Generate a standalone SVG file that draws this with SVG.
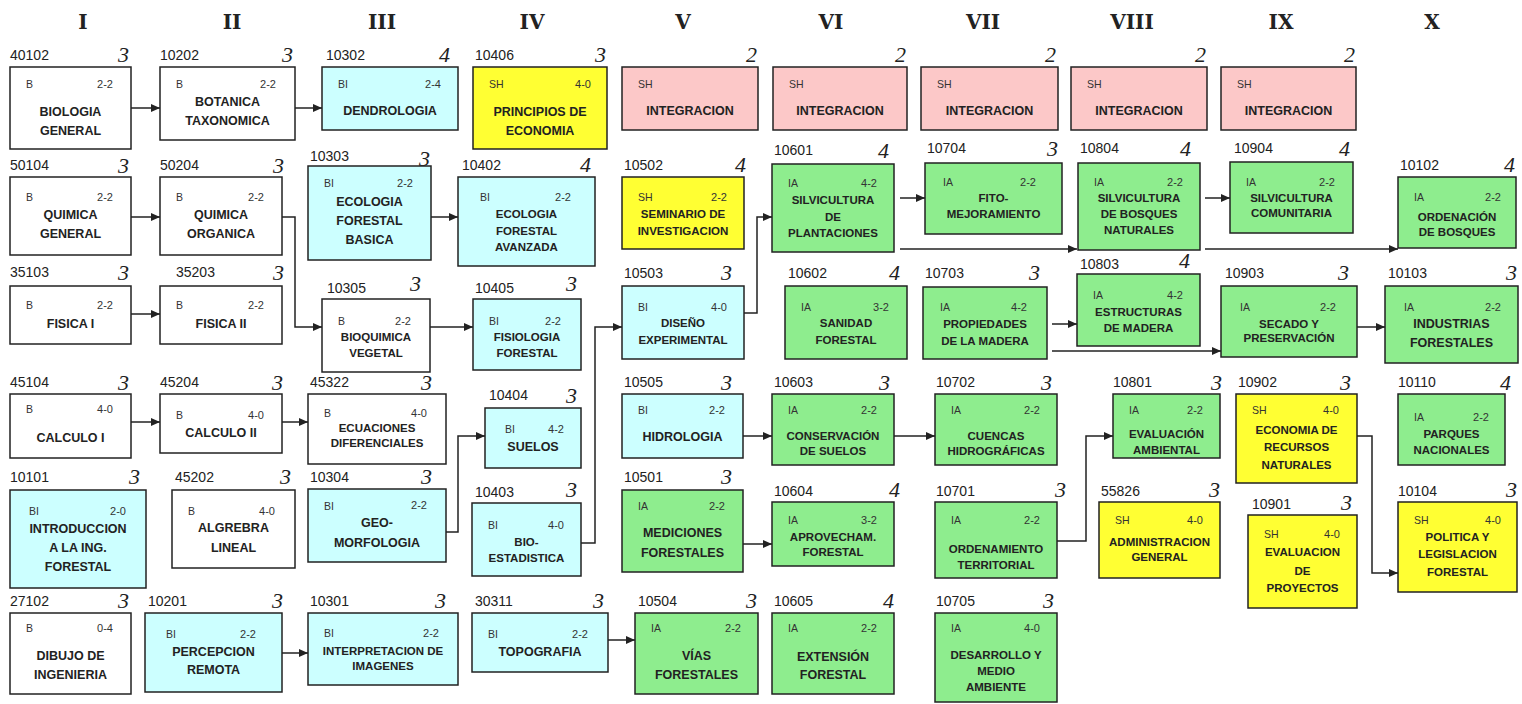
<svg xmlns="http://www.w3.org/2000/svg" width="1522" height="704" viewBox="0 0 1522 704">
<style>
.hd{font:bold 20px "DejaVu Serif","Liberation Serif",serif;fill:#222;text-anchor:middle}
.bx{stroke:#222;stroke-width:1.5}
.w{fill:#ffffff}.cy{fill:#ccffff}.ye{fill:#ffff33}.pk{fill:#fcc8c8}.gr{fill:#8eed8e}
.c{font:14px "Liberation Sans",Arial,sans-serif;fill:#222}
.cr{font:italic 22px "Liberation Serif",serif;fill:#222;text-anchor:end}
.t{font:10.5px "Liberation Sans",Arial,sans-serif;fill:#333}
.h{font:11px "Liberation Sans",Arial,sans-serif;fill:#333;text-anchor:end}
.n{font:bold 12.5px "Liberation Sans",Arial,sans-serif;fill:#222;text-anchor:middle}
.s{font:bold 11.5px "Liberation Sans",Arial,sans-serif;fill:#222;text-anchor:middle}
.ln{fill:none;stroke:#222;stroke-width:1.5}
</style>
<defs>
<marker id="ar" markerUnits="userSpaceOnUse" markerWidth="9" markerHeight="8" refX="9" refY="4" orient="auto"><path d="M0,0 L9,4 L0,8 z" fill="#222"/></marker>
</defs>
<rect width="1522" height="704" fill="#ffffff"/>
<g id="headers">
<text class="hd" x="83" y="29">I</text><text class="hd" x="232" y="29">II</text><text class="hd" x="382" y="29">III</text><text class="hd" x="532" y="29">IV</text><text class="hd" x="683" y="29">V</text><text class="hd" x="831" y="29">VI</text><text class="hd" x="983" y="29">VII</text><text class="hd" x="1132" y="29">VIII</text><text class="hd" x="1281" y="29">IX</text><text class="hd" x="1432" y="29">X</text>
</g>
<g id="connectors">
<path class="ln" marker-end="url(#ar)" d="M131,108 H160"/>
<path class="ln" marker-end="url(#ar)" d="M295,108 H322"/>
<path class="ln" marker-end="url(#ar)" d="M131,217 H160"/>
<path class="ln" marker-end="url(#ar)" d="M282,217 H295 V327 H322"/>
<path class="ln" marker-end="url(#ar)" d="M131,314 H160"/>
<path class="ln" marker-end="url(#ar)" d="M431,217 H458"/>
<path class="ln" marker-end="url(#ar)" d="M430,327 H473"/>
<path class="ln" marker-end="url(#ar)" d="M581,543 H595 V327 H622"/>
<path class="ln" marker-end="url(#ar)" d="M744,313 H757 V217 H772"/>
<path class="ln" marker-end="url(#ar)" d="M900,198 H925"/>
<path class="ln" marker-end="url(#ar)" d="M900,249 H1077"/>
<path class="ln" marker-end="url(#ar)" d="M1205,198 H1230"/>
<path class="ln" marker-end="url(#ar)" d="M1205,249 H1398"/>
<path class="ln" marker-end="url(#ar)" d="M1052,324 H1077"/>
<path class="ln" marker-end="url(#ar)" d="M1052,351 H1221"/>
<path class="ln" marker-end="url(#ar)" d="M1357,327 H1385"/>
<path class="ln" marker-end="url(#ar)" d="M131,422 H160"/>
<path class="ln" marker-end="url(#ar)" d="M282,422 H308"/>
<path class="ln" marker-end="url(#ar)" d="M446,532 H458 V436 H485"/>
<path class="ln" marker-end="url(#ar)" d="M743,436 H772"/>
<path class="ln" marker-end="url(#ar)" d="M743,544 H772"/>
<path class="ln" marker-end="url(#ar)" d="M894,436 H935"/>
<path class="ln" marker-end="url(#ar)" d="M1057,541 H1086 V436 H1113"/>
<path class="ln" marker-end="url(#ar)" d="M1357,436 H1372 V573 H1398"/>
<path class="ln" marker-end="url(#ar)" d="M282,653 H308"/>
<path class="ln" marker-end="url(#ar)" d="M608,640 H635"/>
</g>

<g id="n40102"><rect class="bx w" x="10" y="67" width="121" height="82"/><text class="c" x="10" y="60">40102</text><text class="cr" x="129" y="62">3</text><text class="t" x="26" y="88">B</text><text class="h" x="113" y="88">2-2</text><text class="n"><tspan x="70.5" y="116">BIOLOGIA</tspan><tspan x="70.5" y="135">GENERAL</tspan></text></g>
<g id="n10202"><rect class="bx w" x="160" y="67" width="135" height="73"/><text class="c" x="160" y="60">10202</text><text class="cr" x="293" y="62">3</text><text class="t" x="176" y="88">B</text><text class="h" x="276" y="88">2-2</text><text class="n"><tspan x="227.5" y="106">BOTANICA</tspan><tspan x="227.5" y="125">TAXONOMICA</tspan></text></g>
<g id="n10302"><rect class="bx cy" x="322" y="67" width="136" height="63"/><text class="c" x="326" y="60">10302</text><text class="cr" x="450" y="62">4</text><text class="t" x="338" y="88">BI</text><text class="h" x="441" y="88">2-4</text><text class="n" x="390" y="115">DENDROLOGIA</text></g>
<g id="n10406"><rect class="bx ye" x="473" y="67" width="134" height="82"/><text class="c" x="475" y="60">10406</text><text class="cr" x="606" y="62">3</text><text class="t" x="489" y="88">SH</text><text class="h" x="591" y="88">4-0</text><text class="n"><tspan x="540" y="116">PRINCIPIOS  DE</tspan><tspan x="540" y="135">ECONOMIA</tspan></text></g>
<g id="int5"><rect class="bx pk" x="622" y="67" width="136" height="63"/><text class="cr" x="757" y="62">2</text><text class="t" x="638" y="88">SH</text><text class="n" x="690" y="115">INTEGRACION</text></g>
<g id="int6"><rect class="bx pk" x="773" y="67" width="134" height="63"/><text class="cr" x="906" y="62">2</text><text class="t" x="789" y="88">SH</text><text class="n" x="840" y="115">INTEGRACION</text></g>
<g id="int7"><rect class="bx pk" x="921" y="67" width="137" height="63"/><text class="cr" x="1056" y="62">2</text><text class="t" x="937" y="88">SH</text><text class="n" x="989.5" y="115">INTEGRACION</text></g>
<g id="int8"><rect class="bx pk" x="1071" y="67" width="136" height="63"/><text class="cr" x="1206" y="62">2</text><text class="t" x="1087" y="88">SH</text><text class="n" x="1139" y="115">INTEGRACION</text></g>
<g id="int9"><rect class="bx pk" x="1221" y="67" width="135" height="63"/><text class="cr" x="1355" y="62">2</text><text class="t" x="1237" y="88">SH</text><text class="n" x="1288.5" y="115">INTEGRACION</text></g>

<g id="n50104"><rect class="bx w" x="10" y="177" width="121" height="78"/><text class="c" x="10" y="170">50104</text><text class="cr" x="129" y="173">3</text><text class="t" x="26" y="201">B</text><text class="h" x="113" y="201">2-2</text><text class="n"><tspan x="70.5" y="219">QUIMICA</tspan><tspan x="70.5" y="238">GENERAL</tspan></text></g>
<g id="n50204"><rect class="bx w" x="160" y="177" width="122" height="78"/><text class="c" x="160" y="170">50204</text><text class="cr" x="284" y="173">3</text><text class="t" x="176" y="201">B</text><text class="h" x="264" y="201">2-2</text><text class="n"><tspan x="221" y="219">QUIMICA</tspan><tspan x="221" y="238">ORGANICA</tspan></text></g>
<g id="n10303"><rect class="bx cy" x="308" y="166" width="123" height="94"/><text class="c" x="310" y="161">10303</text><text class="cr" x="430" y="166">3</text><text class="t" x="324" y="187">BI</text><text class="h" x="413" y="187">2-2</text><text class="n"><tspan x="369.5" y="206">ECOLOGIA</tspan><tspan x="369.5" y="225">FORESTAL</tspan><tspan x="369.5" y="244">BASICA</tspan></text></g>
<g id="n10402"><rect class="bx cy" x="458" y="177" width="137" height="89"/><text class="c" x="462" y="170">10402</text><text class="cr" x="591" y="172">4</text><text class="t" x="480" y="201">BI</text><text class="h" x="571" y="201">2-2</text><text class="s"><tspan x="526.5" y="218">ECOLOGIA</tspan><tspan x="526.5" y="235">FORESTAL</tspan><tspan x="526.5" y="251">AVANZADA</tspan></text></g>
<g id="n10502"><rect class="bx ye" x="622" y="177" width="122" height="72"/><text class="c" x="624" y="170">10502</text><text class="cr" x="746" y="172">4</text><text class="t" x="638" y="201">SH</text><text class="h" x="727" y="201">2-2</text><text class="s"><tspan x="683" y="218">SEMINARIO DE</tspan><tspan x="683" y="235">INVESTIGACION</tspan></text></g>
<g id="n10601"><rect class="bx gr" x="772" y="164" width="122" height="88"/><text class="c" x="774" y="155">10601</text><text class="cr" x="889" y="158">4</text><text class="t" x="788" y="187">IA</text><text class="h" x="877" y="187">4-2</text><text class="s"><tspan x="833" y="204">SILVICULTURA</tspan><tspan x="833" y="221">DE</tspan><tspan x="833" y="237">PLANTACIONES</tspan></text></g>
<g id="n10704"><rect class="bx gr" x="925" y="163" width="137" height="71"/><text class="c" x="927" y="153">10704</text><text class="cr" x="1058" y="156">3</text><text class="t" x="943" y="186">IA</text><text class="h" x="1036" y="186">2-2</text><text class="s"><tspan x="993.5" y="202">FITO-</tspan><tspan x="993.5" y="218">MEJORAMIENTO</tspan></text></g>
<g id="n10804"><rect class="bx gr" x="1078" y="163" width="122" height="87"/><text class="c" x="1080" y="153">10804</text><text class="cr" x="1191" y="156">4</text><text class="t" x="1094" y="186">IA</text><text class="h" x="1183" y="186">2-2</text><text class="s"><tspan x="1139" y="202">SILVICULTURA</tspan><tspan x="1139" y="218">DE BOSQUES</tspan><tspan x="1139" y="234">NATURALES</tspan></text></g>
<g id="n10904"><rect class="bx gr" x="1230" y="162" width="123" height="71"/><text class="c" x="1234" y="153">10904</text><text class="cr" x="1350" y="156">4</text><text class="t" x="1246" y="186">IA</text><text class="h" x="1335" y="186">2-2</text><text class="s"><tspan x="1291.5" y="202">SILVICULTURA</tspan><tspan x="1291.5" y="217">COMUNITARIA</tspan></text></g>
<g id="n10102"><rect class="bx gr" x="1398" y="177" width="118" height="71"/><text class="c" x="1400" y="170">10102</text><text class="cr" x="1515" y="172">4</text><text class="t" x="1414" y="201">IA</text><text class="h" x="1501" y="201">2-2</text><text class="s"><tspan x="1457" y="221">ORDENACIÓN</tspan><tspan x="1457" y="236">DE BOSQUES</tspan></text></g>

<g id="n35103"><rect class="bx w" x="10" y="286" width="121" height="58"/><text class="c" x="10" y="277">35103</text><text class="cr" x="129" y="280">3</text><text class="t" x="26" y="309">B</text><text class="h" x="113" y="309">2-2</text><text class="n" x="70.5" y="328">FISICA  I</text></g>
<g id="n35203"><rect class="bx w" x="160" y="286" width="122" height="58"/><text class="c" x="176" y="277">35203</text><text class="cr" x="284" y="280">3</text><text class="t" x="176" y="309">B</text><text class="h" x="264" y="309">2-2</text><text class="n" x="221" y="328">FISICA II</text></g>
<g id="n10305"><rect class="bx w" x="322" y="299" width="108" height="73"/><text class="c" x="327" y="293">10305</text><text class="cr" x="421" y="291">3</text><text class="t" x="338" y="325">B</text><text class="h" x="411" y="325">2-2</text><text class="s"><tspan x="376" y="341">BIOQUIMICA</tspan><tspan x="376" y="357">VEGETAL</tspan></text></g>
<g id="n10405"><rect class="bx cy" x="473" y="299" width="108" height="71"/><text class="c" x="475" y="293">10405</text><text class="cr" x="577" y="291">3</text><text class="t" x="489" y="325">BI</text><text class="h" x="561" y="325">2-2</text><text class="s"><tspan x="527" y="341">FISIOLOGIA</tspan><tspan x="527" y="357">FORESTAL</tspan></text></g>
<g id="n10503"><rect class="bx cy" x="622" y="286" width="122" height="73"/><text class="c" x="624" y="278">10503</text><text class="cr" x="732" y="280">3</text><text class="t" x="638" y="311">BI</text><text class="h" x="727" y="311">4-0</text><text class="s"><tspan x="683" y="327">DISEÑO</tspan><tspan x="683" y="344">EXPERIMENTAL</tspan></text></g>
<g id="n10602"><rect class="bx gr" x="785" y="286" width="122" height="73"/><text class="c" x="788" y="278">10602</text><text class="cr" x="900" y="280">4</text><text class="t" x="801" y="311">IA</text><text class="h" x="889" y="311">3-2</text><text class="s"><tspan x="846" y="327">SANIDAD</tspan><tspan x="846" y="344">FORESTAL</tspan></text></g>
<g id="n10703"><rect class="bx gr" x="923" y="287" width="124" height="72"/><text class="c" x="925" y="278">10703</text><text class="cr" x="1040" y="280">3</text><text class="t" x="940" y="311">IA</text><text class="h" x="1027" y="311">4-2</text><text class="s"><tspan x="985" y="328">PROPIEDADES</tspan><tspan x="985" y="345">DE LA MADERA</tspan></text></g>
<g id="n10803"><rect class="bx gr" x="1077" y="274" width="123" height="72"/><text class="c" x="1080" y="269">10803</text><text class="cr" x="1190" y="268">4</text><text class="t" x="1093" y="299">IA</text><text class="h" x="1183" y="299">4-2</text><text class="s"><tspan x="1138.5" y="316">ESTRUCTURAS</tspan><tspan x="1138.5" y="332">DE MADERA</tspan></text></g>
<g id="n10903"><rect class="bx gr" x="1221" y="286" width="136" height="71"/><text class="c" x="1225" y="278">10903</text><text class="cr" x="1349" y="280">3</text><text class="t" x="1240" y="311">IA</text><text class="h" x="1336" y="311">2-2</text><text class="s"><tspan x="1289" y="328">SECADO Y</tspan><tspan x="1289" y="342">PRESERVACIÓN</tspan></text></g>
<g id="n10103"><rect class="bx gr" x="1385" y="286" width="133" height="77"/><text class="c" x="1388" y="278">10103</text><text class="cr" x="1517" y="280">3</text><text class="t" x="1404" y="311">IA</text><text class="h" x="1501" y="311">2-2</text><text class="n"><tspan x="1451.5" y="328">INDUSTRIAS</tspan><tspan x="1451.5" y="347">FORESTALES</tspan></text></g>

<g id="n45104"><rect class="bx w" x="10" y="394" width="121" height="64"/><text class="c" x="10" y="387">45104</text><text class="cr" x="129" y="390">3</text><text class="t" x="26" y="413">B</text><text class="h" x="113" y="413">4-0</text><text class="n" x="70.5" y="442">CALCULO I</text></g>
<g id="n45204"><rect class="bx w" x="160" y="394" width="122" height="59"/><text class="c" x="160" y="387">45204</text><text class="cr" x="283" y="390">3</text><text class="t" x="176" y="419">B</text><text class="h" x="264" y="419">4-0</text><text class="n" x="221" y="437">CALCULO II</text></g>
<g id="n45322"><rect class="bx w" x="308" y="394" width="138" height="70"/><text class="c" x="310" y="387">45322</text><text class="cr" x="432" y="390">3</text><text class="t" x="324" y="417">B</text><text class="h" x="427" y="417">4-0</text><text class="s"><tspan x="377" y="432">ECUACIONES</tspan><tspan x="377" y="447">DIFERENCIALES</tspan></text></g>
<g id="n10404"><rect class="bx cy" x="485" y="408" width="96" height="60"/><text class="c" x="489" y="400">10404</text><text class="cr" x="577" y="403">3</text><text class="t" x="505" y="433">BI</text><text class="h" x="564" y="433">4-2</text><text class="n" x="533" y="451">SUELOS</text></g>
<g id="n10505"><rect class="bx cy" x="622" y="394" width="121" height="64"/><text class="c" x="624" y="387">10505</text><text class="cr" x="732" y="390">3</text><text class="t" x="638" y="414">BI</text><text class="h" x="725" y="414">2-2</text><text class="n" x="682.5" y="441">HIDROLOGIA</text></g>
<g id="n10603"><rect class="bx gr" x="772" y="394" width="122" height="71"/><text class="c" x="774" y="387">10603</text><text class="cr" x="890" y="390">3</text><text class="t" x="788" y="414">IA</text><text class="h" x="877" y="414">2-2</text><text class="s"><tspan x="833" y="440">CONSERVACIÓN</tspan><tspan x="833" y="455">DE SUELOS</tspan></text></g>
<g id="n10702"><rect class="bx gr" x="935" y="394" width="122" height="71"/><text class="c" x="936" y="387">10702</text><text class="cr" x="1052" y="390">3</text><text class="t" x="951" y="414">IA</text><text class="h" x="1040" y="414">2-2</text><text class="s"><tspan x="996" y="440">CUENCAS</tspan><tspan x="996" y="455">HIDROGRÁFICAS</tspan></text></g>
<g id="n10801"><rect class="bx gr" x="1113" y="394" width="107" height="64"/><text class="c" x="1113" y="387">10801</text><text class="cr" x="1222" y="390">3</text><text class="t" x="1129" y="414">IA</text><text class="h" x="1203" y="414">2-2</text><text class="s"><tspan x="1166.5" y="438">EVALUACIÓN</tspan><tspan x="1166.5" y="454">AMBIENTAL</tspan></text></g>
<g id="n10902"><rect class="bx ye" x="1236" y="394" width="121" height="89"/><text class="c" x="1238" y="387">10902</text><text class="cr" x="1351" y="390">3</text><text class="t" x="1252" y="414">SH</text><text class="h" x="1339" y="414">4-0</text><text class="s"><tspan x="1296.5" y="434">ECONOMIA DE</tspan><tspan x="1296.5" y="451">RECURSOS</tspan><tspan x="1296.5" y="469">NATURALES</tspan></text></g>
<g id="n10110"><rect class="bx gr" x="1398" y="394" width="107" height="71"/><text class="c" x="1398" y="387">10110</text><text class="cr" x="1511" y="390">4</text><text class="t" x="1414" y="421">IA</text><text class="h" x="1489" y="421">2-2</text><text class="s"><tspan x="1451.5" y="438">PARQUES</tspan><tspan x="1451.5" y="454">NACIONALES</tspan></text></g>

<g id="n10101"><rect class="bx cy" x="10" y="490" width="136" height="98"/><text class="c" x="10" y="482">10101</text><text class="cr" x="140" y="484">3</text><text class="t" x="29" y="515">BI</text><text class="h" x="126" y="515">2-0</text><text class="n"><tspan x="78" y="533">INTRODUCCION</tspan><tspan x="78" y="552">A LA ING.</tspan><tspan x="78" y="571">FORESTAL</tspan></text></g>
<g id="n45202"><rect class="bx w" x="172" y="490" width="123" height="78"/><text class="c" x="175" y="482">45202</text><text class="cr" x="291" y="484">3</text><text class="t" x="188" y="515">B</text><text class="h" x="275" y="515">4-0</text><text class="n"><tspan x="233.5" y="532">ALGREBRA</tspan><tspan x="233.5" y="552">LINEAL</tspan></text></g>
<g id="n10304"><rect class="bx cy" x="308" y="489" width="138" height="73"/><text class="c" x="310" y="482">10304</text><text class="cr" x="432" y="484">3</text><text class="t" x="324" y="510">BI</text><text class="h" x="427" y="509">2-2</text><text class="n"><tspan x="377" y="527">GEO-</tspan><tspan x="377" y="547">MORFOLOGIA</tspan></text></g>
<g id="n10403"><rect class="bx cy" x="472" y="503" width="109" height="73"/><text class="c" x="475" y="497">10403</text><text class="cr" x="577" y="497">3</text><text class="t" x="488" y="529">BI</text><text class="h" x="564" y="529">4-0</text><text class="s"><tspan x="526.5" y="546">BIO-</tspan><tspan x="526.5" y="562">ESTADISTICA</tspan></text></g>
<g id="n10501"><rect class="bx gr" x="622" y="490" width="121" height="82"/><text class="c" x="624" y="482">10501</text><text class="cr" x="732" y="484">3</text><text class="t" x="638" y="510">IA</text><text class="h" x="725" y="510">2-2</text><text class="n"><tspan x="682.5" y="537">MEDICIONES</tspan><tspan x="682.5" y="557">FORESTALES</tspan></text></g>
<g id="n10604"><rect class="bx gr" x="772" y="502" width="122" height="64"/><text class="c" x="774" y="496">10604</text><text class="cr" x="900" y="497">4</text><text class="t" x="788" y="524">IA</text><text class="h" x="877" y="524">3-2</text><text class="s"><tspan x="833" y="541">APROVECHAM.</tspan><tspan x="833" y="556">FORESTAL</tspan></text></g>
<g id="n10701"><rect class="bx gr" x="935" y="502" width="122" height="76"/><text class="c" x="936" y="496">10701</text><text class="cr" x="1066" y="497">3</text><text class="t" x="951" y="524">IA</text><text class="h" x="1040" y="524">2-2</text><text class="s"><tspan x="996" y="553">ORDENAMIENTO</tspan><tspan x="996" y="569">TERRITORIAL</tspan></text></g>
<g id="n55826"><rect class="bx ye" x="1099" y="502" width="121" height="76"/><text class="c" x="1101" y="496">55826</text><text class="cr" x="1220" y="497">3</text><text class="t" x="1115" y="524">SH</text><text class="h" x="1203" y="524">4-0</text><text class="s"><tspan x="1159.5" y="546">ADMINISTRACION</tspan><tspan x="1159.5" y="561">GENERAL</tspan></text></g>
<g id="n10901"><rect class="bx ye" x="1248" y="515" width="109" height="93"/><text class="c" x="1252" y="509">10901</text><text class="cr" x="1352" y="510">3</text><text class="t" x="1264" y="538">SH</text><text class="h" x="1340" y="538">4-0</text><text class="s"><tspan x="1302.5" y="556">EVALUACION</tspan><tspan x="1302.5" y="575">DE</tspan><tspan x="1302.5" y="592">PROYECTOS</tspan></text></g>
<g id="n10104"><rect class="bx ye" x="1398" y="502" width="119" height="90"/><text class="c" x="1398" y="496">10104</text><text class="cr" x="1517" y="497">3</text><text class="t" x="1414" y="524">SH</text><text class="h" x="1501" y="524">4-0</text><text class="s"><tspan x="1457.5" y="541">POLITICA Y</tspan><tspan x="1457.5" y="558">LEGISLACION</tspan><tspan x="1457.5" y="576">FORESTAL</tspan></text></g>

<g id="n27102"><rect class="bx w" x="10" y="613" width="121" height="81"/><text class="c" x="10" y="606">27102</text><text class="cr" x="129" y="608">3</text><text class="t" x="26" y="632">B</text><text class="h" x="113" y="632">0-4</text><text class="n"><tspan x="70.5" y="660">DIBUJO DE</tspan><tspan x="70.5" y="679">INGENIERIA</tspan></text></g>
<g id="n10201"><rect class="bx cy" x="145" y="613" width="137" height="79"/><text class="c" x="148" y="606">10201</text><text class="cr" x="283" y="608">3</text><text class="t" x="166" y="638">BI</text><text class="h" x="256" y="638">2-2</text><text class="n"><tspan x="213.5" y="656">PERCEPCION</tspan><tspan x="213.5" y="674">REMOTA</tspan></text></g>
<g id="n10301"><rect class="bx cy" x="308" y="613" width="150" height="72"/><text class="c" x="310" y="606">10301</text><text class="cr" x="446" y="608">3</text><text class="t" x="324" y="637">BI</text><text class="h" x="439" y="637">2-2</text><text class="s"><tspan x="383" y="655">INTERPRETACION DE</tspan><tspan x="383" y="670">IMAGENES</tspan></text></g>
<g id="n30311"><rect class="bx cy" x="472" y="613" width="136" height="59"/><text class="c" x="475" y="606">30311</text><text class="cr" x="604" y="608">3</text><text class="t" x="488" y="638">BI</text><text class="h" x="588" y="638">2-2</text><text class="n" x="540" y="656">TOPOGRAFIA</text></g>
<g id="n10504"><rect class="bx gr" x="635" y="613" width="123" height="81"/><text class="c" x="638" y="606">10504</text><text class="cr" x="757" y="608">3</text><text class="t" x="651" y="632">IA</text><text class="h" x="741" y="632">2-2</text><text class="n"><tspan x="696.5" y="660">VÍAS</tspan><tspan x="696.5" y="679">FORESTALES</tspan></text></g>
<g id="n10605"><rect class="bx gr" x="772" y="613" width="122" height="81"/><text class="c" x="774" y="606">10605</text><text class="cr" x="894" y="608">4</text><text class="t" x="788" y="632">IA</text><text class="h" x="877" y="632">2-2</text><text class="n"><tspan x="833" y="661">EXTENSIÓN</tspan><tspan x="833" y="679">FORESTAL</tspan></text></g>
<g id="n10705"><rect class="bx gr" x="935" y="613" width="122" height="89"/><text class="c" x="936" y="606">10705</text><text class="cr" x="1054" y="608">3</text><text class="t" x="951" y="632">IA</text><text class="h" x="1040" y="632">4-0</text><text class="s"><tspan x="996" y="659">DESARROLLO Y</tspan><tspan x="996" y="675">MEDIO</tspan><tspan x="996" y="691">AMBIENTE</tspan></text></g>
</svg>
